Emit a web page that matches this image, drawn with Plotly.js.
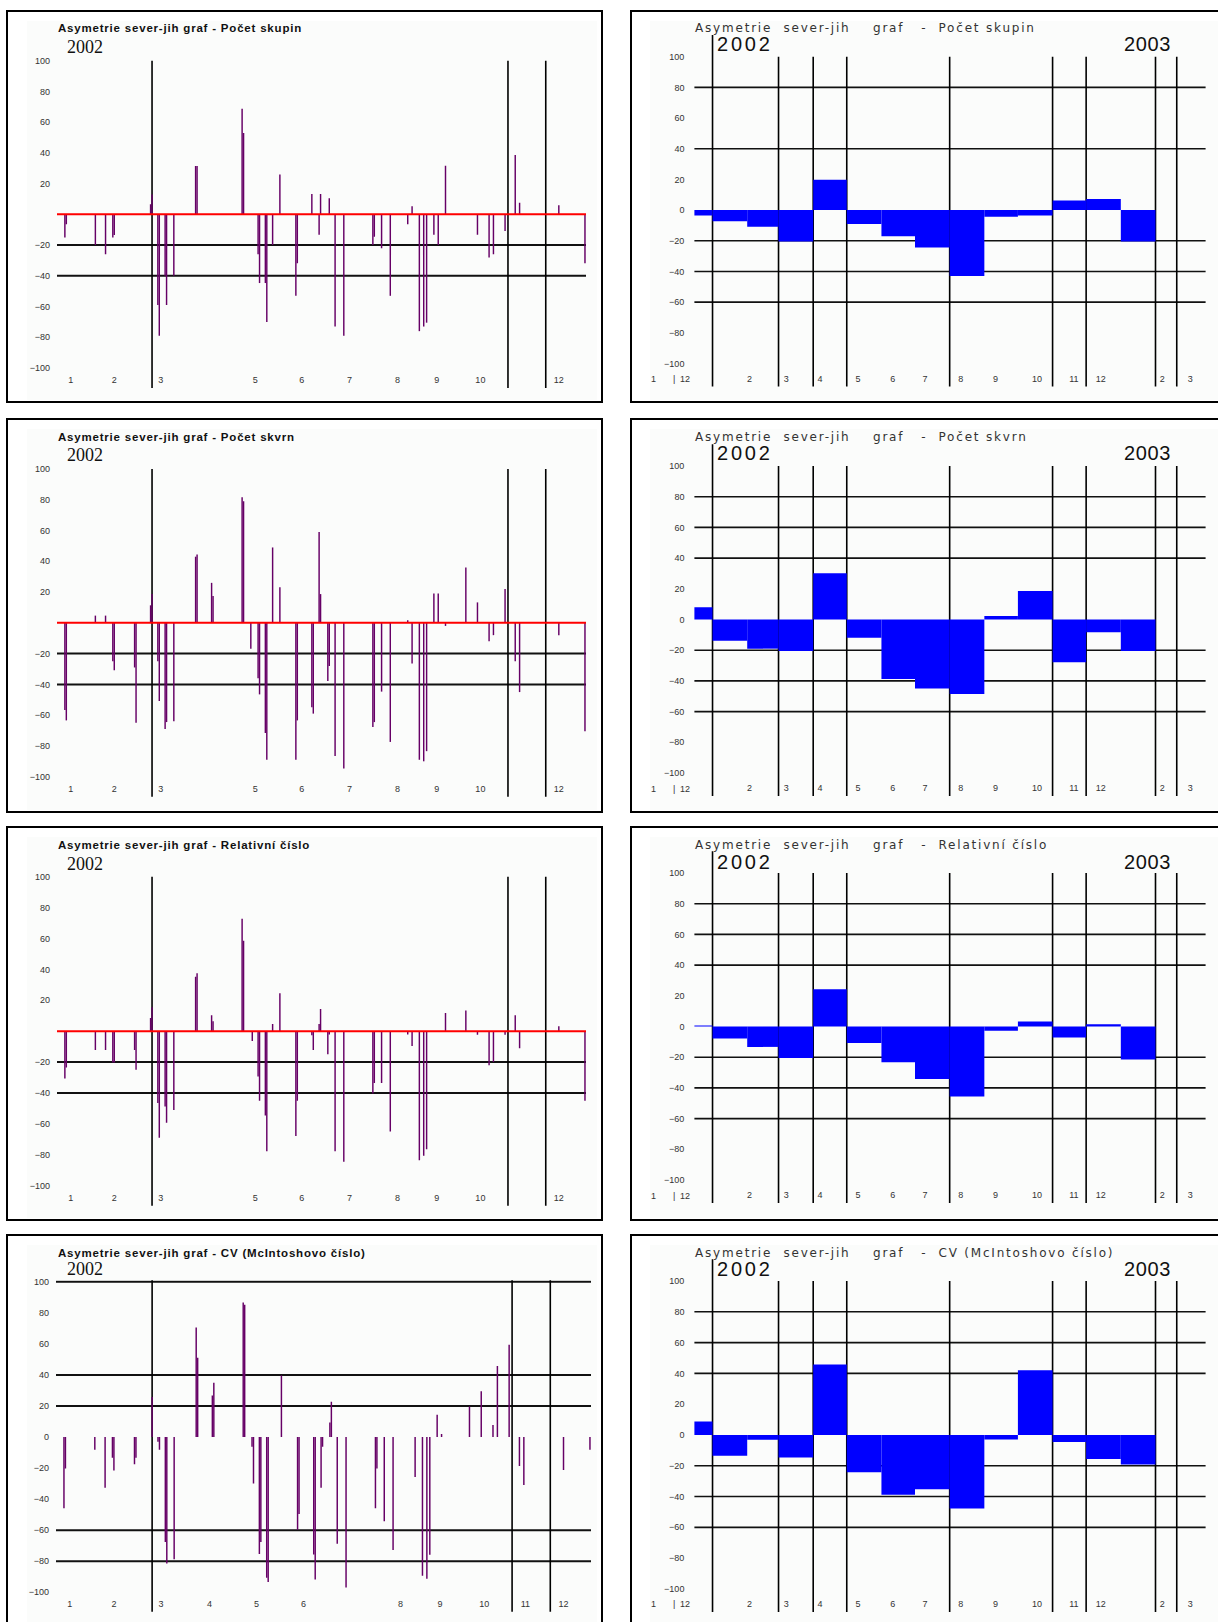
<!DOCTYPE html>
<html>
<head>
<meta charset="utf-8">
<script src="https://cdn.plot.ly/plotly-3.0.1.min.js"></script>
<style>
  html, body { margin: 0; padding: 0; background: #fff; }
  #chart { width: 1218px; height: 1622px; }
</style>
</head>
<body>
<div id="chart"></div>
<script>
// ---- Daily north–south asymmetry, 2002 (days counted from 1 Jan 2002) ----
const dayOffsets = [-1, 0, 20, 27, 32, 33, 47, 48, 58, 59, 63, 64, 68, 69, 74, 89, 90, 100, 101, 121,
  122, 127, 128, 132, 133, 137, 138, 142, 147, 158, 159, 169, 170, 174, 175, 180, 181, 185, 191, 211,
  212, 217, 223, 235, 238, 243, 246, 248, 253, 256, 261, 275, 283, 291, 294, 302, 309, 312, 339, 357];

const dailyGroups = [-15, -6.5, -20, -26, -15, -13.5, 0, 0, 6.5, 13, -59, -79, -40, -59, -40, 31.5, 31.5, 0, 0, 68.8,
  53, 0, 0, -26, -44.7, -44.7, -70, -20, 26, -53, -31.8, 13.3, 0, -13.3, 13.3, 0, 10.5, -73, -79, -20,
  -14.6, -22, -53, -6.5, 5.2, -76, -73, -70.5, -13.3, -20, 31.6, 0, -13.3, -28, -26, -10.8, 38.7, 7.5, 6, -31.8];

const dailySpots = [-56.6, -63.4, 4.7, 4.7, -25, -30.8, -29, -65, 11.4, 18.7, -25, -50.8, -69, -64.5, -64, 43, 44.5, 26, 17.4, 81.7,
  79, -16.8, 0, -36, -46.5, -71.6, -89, 49, 23.2, -89, -63.4, -54.8, -59, 59, 18.7, -37.8, -28, -86.5, -94.6, -67.7,
  -64.5, -44.7, -77.4, 1.7, -26.5, -89, -90, -83.4, 19, 19, -2, 36, 13.3, -12, -8, 22, -25, -45, -8, -70.5];

const dailyRelative = [-30.6, -23.5, -12.2, -12.2, -20.3, -20.3, -12.2, -25, 8.6, 15.4, -46.5, -69, -48.8, -59.3, -51, 35.3, 37.5, 10.3, 6.4, 72.8,
  58.5, 0, -6.4, -29.3, -45, -54.6, -77.7, 4.7, 24.6, -67.9, -45, -2.6, -12.2, 4.7, 14.3, -15, -2.1, -77.7, -84.6, -40.3,
  -33.6, -33.6, -65, -2.1, -9.6, -83.5, -80.7, -76.4, -0.5, 0, 11.8, 13.3, -2.4, -22, -20, -2.4, 10.3, -11.1, 3.2, -45];

const dailyCV = [-45.8, -20.2, -8.2, -32.6, -13.4, -21.6, -17.5, -13.4, 0, 25.8, -3, -8.2, -67.6, -81.4, -78.8, 70.5, 51.1, 26.8, 35, 86.6,
  85.2, -6.2, -29.9, -75.3, -67.6, -90.7, -93.4, 0, 39.6, -59.8, -49.5, -75.7, -91.8, -32.6, -6.2, 9.3, 22.7, -68.7, -96.9, -45.8,
  -20.2, -54.2, -72.8, 0, -25.8, -89.3, -91.3, -75.9, 14.4, 2, 0, 19.6, 29.5, 7.8, 45.8, 59.4, -18.6, -30.9, -21.2, -8.2];

// ---- Monthly north–south asymmetry, Dec 2001 – Jan 2003 ----
const months = ['2001-12-01', '2002-01-01', '2002-02-01', '2002-03-01', '2002-04-01', '2002-05-01', '2002-06-01',
  '2002-07-01', '2002-08-01', '2002-09-01', '2002-10-01', '2002-11-01', '2002-12-01', '2003-01-01'];
const monthlyGroups   = [-3.5, -7.3, -10.8, -20.4, 19.8, -9, -17, -24.4, -43, -4.4, -3.5, 6.3, 7.3, -20.4];
const monthlySpots    = [7.9, -13.8, -19, -20.6, 30.2, -11.9, -38.8, -45, -48.5, 2.3, 18.5, -27.9, -8.3, -20.6];
const monthlyRelative = [0.6, -7.9, -13.3, -20.6, 24.2, -10.8, -23.3, -34.2, -45.6, -2.7, 3.3, -7.1, 1.5, -21.5];
const monthlyCV       = [8.8, -13.5, -3.1, -14.6, 45.8, -24.2, -38.8, -35.2, -47.7, -2.9, 42, -4.6, -15.6, -19.2];

// ---- Labels ----
const chartTitle = 'Asymetrie sever-jih graf';
const metricNames = ['Počet skupin', 'Počet skvrn', 'Relativní číslo', 'CV (McIntoshovo číslo)'];
const yearLabels = ['2002', '2003'];

const axisValues = [100, 80, 60, 40, 20, 0, -20, -40, -60, -80, -100];
const axisValuesNoZero = [100, 80, 60, 40, 20, -20, -40, -60, -80, -100];

const dailyTickDates = ['2002-01-04', '2002-02-03', '2002-03-07', '2002-04-09', '2002-05-11', '2002-06-12',
  '2002-07-15', '2002-08-17', '2002-09-13', '2002-10-13', '2002-11-10', '2002-12-06'];
const dailyTickText   = ['1', '2', '3', '', '5', '6', '7', '8', '9', '10', '', '12'];
const dailyTickTextCV = ['1', '2', '3', '4', '5', '6', '', '8', '9', '10', '11', '12'];

const monthTickDates = ['2002-02-03', '2002-03-08', '2002-04-07', '2002-05-11', '2002-06-11', '2002-07-10', '2002-08-11',
  '2002-09-11', '2002-10-18', '2002-11-20', '2002-12-14', '2003-02-07', '2003-03-04'];
const monthTickText = ['2', '3', '4', '5', '6', '7', '8', '9', '10', '11', '12', '2', '3'];

// Dividers and reference levels
const dailyDividers = ['2002-03-01', '2002-11-01', '2002-11-27'];
const monthDividers = ['2002-01-01', '2002-03-01', '2002-04-01', '2002-05-01', '2002-08-01',
  '2002-11-01', '2002-12-01', '2003-02-01', '2003-02-20'];
const dailyLevels = [-20, -40];
const cvDailyLevels = [100, 40, 20, -60, -80];
const monthLevelsFirst = [80, 40, -20, -40, -60];
const monthLevels = [80, 60, 40, -20, -40, -60];

// ---- Helpers ----
const W = 1218, H = 1622;
const fx = p => p / W;
const fy = p => 1 - p / H;
const DAY_MS = 86400000;
const base = Date.UTC(2002, 0, 1);
const dayToDate = d => new Date(base + d * DAY_MS).toISOString().slice(0, 10);
const dailyDates = dayOffsets.map(dayToDate);
const monthWidths = months.map(m => {
  const t = new Date(m + 'T00:00:00Z');
  return Date.UTC(t.getUTCFullYear(), t.getUTCMonth() + 1, 1) - t.getTime();
});
const spaced = (s, px) => '<span style="letter-spacing:' + px + 'px">' + s + '</span>';
const NB = '\u00a0';

const dailySeries = [dailyGroups, dailySpots, dailyRelative, dailyCV];
const monthlySeries = [monthlyGroups, monthlySpots, monthlyRelative, monthlyCV];

// Panel geometry (pixels)
const leftPlotY  = [[60.7, 388], [469, 796.7], [876.7, 1205.7], [1280.2, 1611.7]];
const rightPlotY = [[56.7, 386.5], [466, 796], [873, 1203], [1281, 1612]];
const boxTop = [11, 419, 827, 1235];
const boxBottom = [402, 812, 1220, 1660];
const titleY = [28.3, 436.7, 845, 1252.5];
const leftYearY = [47, 455.4, 863.8, 1269];
const rightYearY = [44.5, 453.3, 861.7, 1269.3];
const tickRowY = [379.5, 788.5, 1196, 1604];

const dailyRange = ['2001-12-25 14:00', '2002-12-24 17:00'];
const monthRange = ['2001-12-15 19:00', '2003-03-17 19:00'];

const traces = [];
const layout = {
  width: W, height: H,
  margin: { l: 0, r: 0, t: 0, b: 0 },
  paper_bgcolor: '#ffffff',
  plot_bgcolor: 'rgba(0,0,0,0)',
  showlegend: false,
  font: { family: 'Liberation Sans, Arial, sans-serif', color: '#222' },
  shapes: [],
  annotations: []
};

const tickFont = { family: 'Liberation Sans, Arial, sans-serif', size: 9, color: '#333' };

for (let r = 0; r < 4; r++) {
  const li = 2 * r + 1, ri = 2 * r + 2;
  const lx = li === 1 ? 'x' : 'x' + li, ly = li === 1 ? 'y' : 'y' + li;
  const rx = 'x' + ri, ry = 'y' + ri;
  const isCV = r === 3;

  // --- left panel: daily bars ---
  const lxDom = isCV ? [fx(56), fx(591)] : [fx(57), fx(586)];
  layout['xaxis' + (li === 1 ? '' : li)] = {
    type: 'date', domain: lxDom, range: dailyRange, anchor: ly,
    tickvals: dailyTickDates, ticktext: isCV ? dailyTickTextCV : dailyTickText,
    ticklabelposition: 'inside', ticks: '', showgrid: false, zeroline: false, showline: false,
    tickfont: tickFont, fixedrange: true
  };
  layout['yaxis' + (li === 1 ? '' : li)] = {
    domain: [fy(leftPlotY[r][1]), fy(leftPlotY[r][0])],
    range: isCV ? [-112.5, 101] : [-113, 100], anchor: lx,
    tickvals: isCV ? axisValues : axisValuesNoZero,
    ticks: '', showgrid: false, zeroline: false, showline: false,
    ticklabelstandoff: 6, tickfont: tickFont, fixedrange: true
  };
  traces.push({
    type: 'bar', x: dailyDates, y: dailySeries[r], width: DAY_MS,
    marker: { color: '#660066', line: { width: 0 } },
    xaxis: lx, yaxis: ly, hoverinfo: 'skip'
  });

  // --- right panel: monthly steps ---
  layout['xaxis' + ri] = {
    type: 'date', domain: [fx(694.4), fx(1205.6)], range: monthRange, anchor: ry,
    tickvals: monthTickDates, ticktext: monthTickText,
    ticklabelposition: 'inside', ticks: '', showgrid: false, zeroline: false, showline: false,
    tickfont: tickFont, fixedrange: true
  };
  layout['yaxis' + ri] = {
    domain: [fy(rightPlotY[r][1]), fy(rightPlotY[r][0])],
    range: [-115, 100], anchor: rx, tickvals: axisValues,
    ticks: '', showgrid: false, zeroline: false, showline: false,
    ticklabelstandoff: 9, tickfont: tickFont, fixedrange: true
  };
  traces.push({
    type: 'bar', x: months, y: monthlySeries[r], width: monthWidths, offset: 0,
    marker: { color: '#0000ff', line: { width: 0 } },
    xaxis: rx, yaxis: ry, hoverinfo: 'skip'
  });

  // --- frames and light panel interiors ---
  [[7, 602, 27, 597], [631, 1225, 650, 1225]].forEach(([x0, x1, ix0, ix1]) => {
    layout.shapes.push({
      type: 'rect', xref: 'paper', yref: 'paper', layer: 'below',
      x0: fx(ix0), x1: fx(ix1), y0: fy(boxBottom[r] - 2), y1: fy(boxTop[r] + 10),
      fillcolor: '#fbfcfb', line: { width: 0 }
    });
    layout.shapes.push({
      type: 'rect', xref: 'paper', yref: 'paper', layer: 'above',
      x0: fx(x0), x1: fx(x1), y0: fy(boxBottom[r]), y1: fy(boxTop[r]),
      line: { color: '#000', width: 2 }, fillcolor: 'rgba(0,0,0,0)'
    });
  });

  // --- reference lines, left ---
  (isCV ? cvDailyLevels : dailyLevels).forEach(v => {
    layout.shapes.push({
      type: 'line', xref: lx + ' domain', yref: ly, x0: 0, x1: 1, y0: v, y1: v,
      layer: 'below', line: { color: '#111', width: 2 }
    });
  });
  if (!isCV) {
    layout.shapes.push({
      type: 'line', xref: lx + ' domain', yref: ly, x0: 0, x1: 1, y0: 0, y1: 0,
      layer: 'above', line: { color: '#ff0000', width: 2 }
    });
  }
  dailyDividers.forEach(d => {
    layout.shapes.push({
      type: 'line', xref: lx, yref: ly + ' domain', x0: d, x1: d, y0: 0, y1: 1,
      layer: 'below', line: { color: '#000', width: 1.6 }
    });
  });

  // --- reference lines, right ---
  (r === 0 ? monthLevelsFirst : monthLevels).forEach(v => {
    layout.shapes.push({
      type: 'line', xref: rx + ' domain', yref: ry, x0: 0, x1: 1, y0: v, y1: v,
      layer: 'below', line: { color: '#111', width: 1.6 }
    });
  });
  monthDividers.forEach((d, i) => {
    layout.shapes.push({
      type: 'line', xref: rx, yref: ry + ' domain', x0: d, x1: d, y0: 0, y1: i === 0 ? 1.066 : 1,
      layer: 'below', line: { color: '#000', width: 1.6 }
    });
  });

  // --- titles and year labels ---
  layout.annotations.push({
    xref: 'paper', yref: 'paper', x: fx(56), y: fy(titleY[r]), xanchor: 'left', yanchor: 'middle',
    showarrow: false, text: spaced(chartTitle + ' - ' + metricNames[r], 0.8),
    font: { family: 'Liberation Sans, Arial, sans-serif', size: 11.5, color: '#111', weight: 'bold' }
  });
  layout.annotations.push({
    xref: 'paper', yref: 'paper', x: fx(65), y: fy(leftYearY[r]), xanchor: 'left', yanchor: 'middle',
    showarrow: false, text: yearLabels[0],
    font: { family: 'Liberation Serif, serif', size: 18, color: '#111' }
  });
  const rightTitle = 'Asymetrie' + NB + ' sever-jih' + NB + NB + NB + ' graf' + NB + NB + ' -' + NB + ' ' + metricNames[r];
  layout.annotations.push({
    xref: 'paper', yref: 'paper', x: fx(693), y: fy(titleY[r]), xanchor: 'left', yanchor: 'middle',
    showarrow: false, text: spaced(rightTitle, 1.8),
    font: { family: 'DejaVu Sans, sans-serif', size: 12, color: '#333' }
  });
  layout.annotations.push({
    xref: 'paper', yref: 'paper', x: fx(715), y: fy(rightYearY[r]), xanchor: 'left', yanchor: 'middle',
    showarrow: false, text: spaced(yearLabels[0], 2.8),
    font: { family: 'Liberation Sans, Arial, sans-serif', size: 20, color: '#111' }
  });
  layout.annotations.push({
    xref: 'paper', yref: 'paper', x: fx(1122), y: fy(rightYearY[r]), xanchor: 'left', yanchor: 'middle',
    showarrow: false, text: spaced(yearLabels[1], 0.6),
    font: { family: 'Liberation Sans, Arial, sans-serif', size: 20, color: '#111' }
  });
  // leading month marks to the left of the monthly plot
  [['1', 653], ['|', 673.5], ['12', 685]].forEach(([t, px]) => {
    layout.annotations.push({
      xref: 'paper', yref: 'paper', x: fx(px), y: fy(tickRowY[r]), xanchor: 'center', yanchor: 'middle',
      showarrow: false, text: t, font: tickFont
    });
  });
}

Plotly.newPlot('chart', traces, layout, { staticPlot: true, displayModeBar: false });
</script>
</body>
</html>
